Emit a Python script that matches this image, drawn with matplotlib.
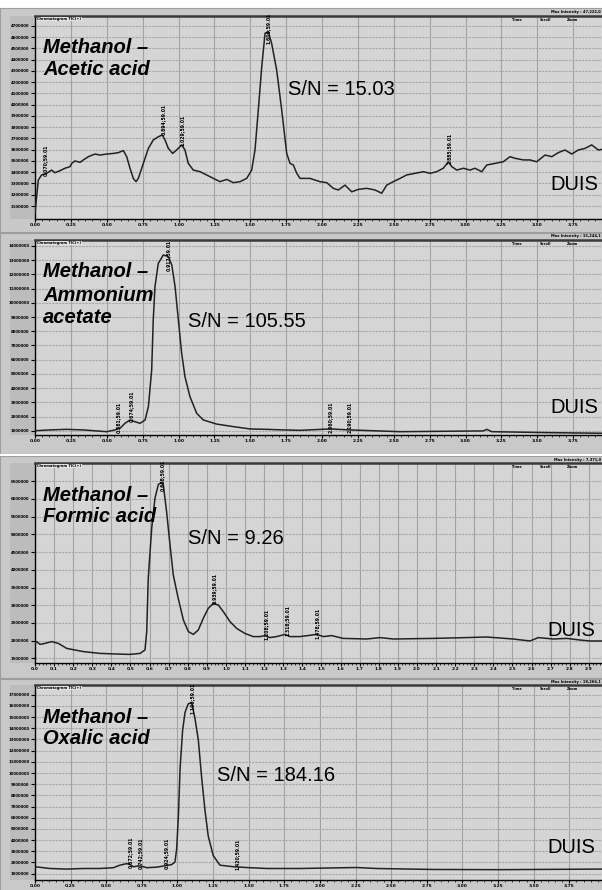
import numpy as np
import matplotlib.pyplot as plt
from matplotlib.patches import Rectangle
from matplotlib.ticker import MultipleLocator, FixedLocator

plt.rcParams['font.family'] = ['Liberation Sans', 'DejaVu Sans']

W, H = 602, 890

# ---------------- data (retention time, relative intensity %) ----------------
# Panel 1: Methanol - Acetic acid
t1 = [0.000, 0.023, 0.046, 0.081, 0.116, 0.139, 0.174, 0.209, 0.244, 0.256,
      0.279, 0.314, 0.337, 0.372, 0.418, 0.453, 0.500, 0.546, 0.581, 0.616,
      0.639, 0.662, 0.685, 0.704, 0.720, 0.755, 0.790, 0.824, 0.859, 0.887,
      0.906, 0.929, 0.959, 0.987, 1.022, 1.045, 1.068, 1.103, 1.150, 1.196,
      1.243, 1.289, 1.336, 1.382, 1.429, 1.475, 1.510, 1.533, 1.556, 1.580,
      1.603, 1.626, 1.649, 1.684, 1.719, 1.754, 1.777, 1.800, 1.824, 1.847,
      1.916, 1.986, 2.033, 2.079, 2.114, 2.160, 2.207, 2.253, 2.311, 2.369,
      2.416, 2.451, 2.497, 2.544, 2.590, 2.648, 2.706, 2.753, 2.799, 2.845,
      2.880, 2.904, 2.939, 2.985, 3.031, 3.066, 3.113, 3.148, 3.206, 3.263,
      3.310, 3.345, 3.403, 3.449, 3.496, 3.554, 3.601, 3.647, 3.693, 3.740,
      3.786, 3.833, 3.879, 3.926, 3.951]
i1 = [2.8, 19.2, 21.7, 22.5, 24.1, 22.8, 23.8, 25.0, 25.8, 27.4,
      28.6, 27.9, 29.1, 30.7, 32.0, 31.5, 32.0, 32.3, 32.7, 33.7,
      30.7, 25.0, 20.0, 18.4, 20.0, 27.4, 34.8, 38.9, 40.5, 41.4,
      38.9, 34.8, 32.3, 34.0, 36.5, 34.0, 27.4, 24.1, 23.3, 21.7,
      20.0, 18.4, 19.5, 17.9, 18.4, 20.0, 24.1, 34.0, 53.7, 75.0,
      91.5, 92.3, 86.5, 73.4, 53.7, 32.3, 27.4, 26.6, 22.5, 20.0,
      20.0, 18.4, 17.9, 15.1, 14.3, 16.7, 13.4, 14.6, 15.1, 14.3,
      12.7, 16.7, 18.4, 20.0, 21.7, 22.5, 23.3, 22.5, 23.3, 25.0,
      28.2, 25.8, 24.1, 25.0, 24.1, 25.0, 23.3, 26.6, 27.4, 28.2,
      30.7, 29.9, 29.1, 29.1, 28.2, 31.5, 30.7, 32.7, 34.0, 32.0,
      34.0, 34.8, 36.5, 34.0, 34.3]
m1_t = [0.070, 0.894, 1.029, 1.626, 2.885]
m1_i = [29.1, 48.8, 43.8, 94.0, 35.0]
m1_s = ["0.070;59.01", "0.894;59.01", "1.029;59.01", "1.606;59.01", "2.885;59.01"]

# Panel 2: Methanol - Ammonium acetate
t2 = [0.000, 0.105, 0.221, 0.337, 0.500, 0.557, 0.592, 0.627, 0.662, 0.697,
      0.732, 0.767, 0.790, 0.813, 0.824, 0.836, 0.859, 0.894, 0.929, 0.953,
      0.976, 0.999, 1.022, 1.045, 1.080, 1.127, 1.173, 1.266, 1.382, 1.498,
      1.615, 1.730, 1.847, 2.056, 2.195, 2.544, 3.124, 3.148, 3.183, 3.589,
      3.951]
i2 = [2.2, 2.6, 2.9, 2.6, 1.7, 2.6, 3.4, 6.0, 7.7, 6.8,
      6.0, 7.7, 14.5, 33.3, 59.0, 76.1, 88.0, 92.3, 91.5, 87.2,
      76.1, 59.0, 41.9, 29.9, 19.6, 11.1, 7.7, 5.6, 4.3, 3.1,
      2.9, 2.6, 2.4, 3.1, 2.6, 1.7, 2.1, 2.9, 1.7, 1.2,
      0.9]
m2_t = [0.581, 0.674, 0.929, 2.060, 2.190]
m2_i = [9.2, 14.9, 92.3, 9.2, 9.2]
m2_s = ["0.581;59.01", "0.674;59.01", "0.912;59.01", "2.060;59.01", "2.190;59.01"]

# Panel 3: Methanol - Formic acid
t3 = [0.000, 0.009, 0.026, 0.052, 0.087, 0.122, 0.166, 0.253, 0.340, 0.428,
      0.497, 0.550, 0.576, 0.585, 0.593, 0.611, 0.628, 0.646, 0.663, 0.672,
      0.689, 0.707, 0.724, 0.750, 0.777, 0.803, 0.829, 0.855, 0.881, 0.907,
      0.934, 0.960, 0.986, 1.021, 1.056, 1.099, 1.143, 1.178, 1.204, 1.230,
      1.265, 1.309, 1.335, 1.387, 1.475, 1.510, 1.553, 1.614, 1.737, 1.806,
      1.876, 2.085, 2.260, 2.365, 2.504, 2.592, 2.635, 2.714, 2.784, 2.853,
      2.906, 2.969]
i3 = [9.8, 10.7, 9.3, 9.8, 10.7, 9.8, 7.3, 5.7, 4.8, 4.5,
      4.3, 4.8, 6.5, 15.7, 42.3, 67.3, 82.3, 89.3, 90.3, 89.0,
      75.7, 59.0, 44.0, 32.3, 21.5, 15.7, 14.3, 16.5, 22.3, 27.3,
      29.8, 29.0, 25.7, 20.7, 17.3, 14.8, 13.2, 13.2, 13.7, 12.7,
      13.2, 14.3, 13.2, 13.2, 14.3, 13.2, 13.7, 12.3, 12.0, 12.7,
      12.0, 12.3, 12.7, 13.0, 12.0, 11.0, 12.7, 12.0, 12.3, 11.5,
      11.0, 11.0]
m3_t = [0.668, 0.939, 1.208, 1.318, 1.478]
m3_i = [94.0, 37.5, 19.5, 21.0, 20.0]
m3_s = ["0.668;59.01", "0.939;59.01", "1.208;59.01", "1.318;59.01", "1.478;59.01"]

# Panel 4: Methanol - Oxalic acid
t4 = [0.000, 0.105, 0.222, 0.339, 0.456, 0.550, 0.596, 0.643, 0.667, 0.690,
      0.737, 0.784, 0.854, 0.912, 0.959, 0.982, 0.994, 1.006, 1.018, 1.036,
      1.053, 1.076, 1.100, 1.123, 1.146, 1.170, 1.193, 1.216, 1.251, 1.298,
      1.392, 1.509, 1.626, 1.743, 1.860, 2.257, 2.398, 2.795, 3.263, 3.979]
i4 = [6.8, 5.9, 5.6, 5.9, 5.9, 6.3, 7.6, 8.4, 7.9, 6.8,
      7.3, 6.3, 6.6, 7.3, 7.9, 9.2, 15.8, 32.3, 57.1, 76.9,
      86.0, 90.4, 90.9, 82.7, 71.9, 52.1, 35.6, 22.4, 12.5, 7.6,
      6.8, 6.3, 5.9, 5.9, 5.9, 6.4, 5.9, 5.4, 5.3, 5.6]
m4_t = [0.672, 0.742, 0.924, 1.100, 1.420]
m4_i = [14.4, 13.9, 13.4, 93.0, 12.9]
m4_s = ["0.672;59.01", "0.742;59.01", "0.924;59.01", "1.100;59.01", "1.420;59.01"]

titles = [["Methanol \u2013", "Acetic acid"],
          ["Methanol \u2013", "Ammonium", "acetate"],
          ["Methanol \u2013", "Formic acid"],
          ["Methanol \u2013", "Oxalic acid"]]
sn_labels = ["S/N = 15.03", "S/N = 105.55", "S/N = 9.26", "S/N = 184.16"]
mode_label = "DUIS"
max_int = ["Max Intensity : 47,222,0", "Max Intensity : 15,244,1",
           "Max Intensity : 7,371,0", "Max Intensity : 18,266,1"]

# ---------------- layout (pixels) ----------------
layout = [
    dict(top=16, bottom=219, xmax=3.951, major=0.25, minor=0.05, fmt='{:.2f}',
         y0=6.4, ystep=5.55, title_y=[53.3, 75.0], sn=(288, 95), duis=(550, 190),
         frame=(8, 232)),
    dict(top=240, bottom=435, xmax=3.951, major=0.25, minor=0.05, fmt='{:.2f}',
         y0=2.1, ystep=7.3, title_y=[277.3, 300.7, 322.7], sn=(188, 327.3), duis=(550, 413.3),
         frame=(233, 454)),
    dict(top=463, bottom=663, xmax=2.969, major=0.1, minor=0.02, fmt='{:.1f}',
         y0=2.35, ystep=8.85, title_y=[500.7, 522.3], sn=(188, 544.3), duis=(547, 635.7),
         frame=(456, 678)),
    dict(top=685, bottom=880, xmax=3.979, major=0.25, minor=0.05, fmt='{:.2f}',
         y0=3.3, ystep=5.73, title_y=[722.7, 744.3], sn=(217, 781), duis=(547, 853),
         frame=(679, 900)),
]
series = [(t1, i1, m1_t, m1_i, m1_s), (t2, i2, m2_t, m2_i, m2_s),
          (t3, i3, m3_t, m3_i, m3_s), (t4, i4, m4_t, m4_i, m4_s)]
ytick_base = [3100000, 1000000, 1500000, 1000000]
ytick_inc = [100000, 1000000, 500000, 1000000]


def fx(x):
    return x / W


def fy(y):
    return 1 - y / H


fig = plt.figure(figsize=(6.02, 8.90), dpi=100, facecolor='#c4c4c4')

# white strip at top
fig.add_artist(Rectangle((0, fy(8)), 1, 8 / H, transform=fig.transFigure,
                         facecolor='white', edgecolor='none', zorder=0))

left_px, right_px = 35, 602
for k, (L, S) in enumerate(zip(layout, series)):
    t, inten, mt, mi, ms = S
    f0, f1 = L['frame']
    # panel frame
    fig.add_artist(Rectangle((fx(0), fy(f1)), 1, (f1 - f0) / H, transform=fig.transFigure,
                             facecolor='#c9c9c9', edgecolor='#9e9e9e', lw=0.8, zorder=0))
    # darker tick-label strip on the left
    fig.add_artist(Rectangle((fx(10), fy(L['bottom'])), fx(25), (L['bottom'] - L['top']) / H,
                             transform=fig.transFigure, facecolor='#bcbcbc',
                             edgecolor='none', zorder=0))
    ax = fig.add_axes([fx(left_px), fy(L['bottom']), (right_px - left_px) / W,
                       (L['bottom'] - L['top']) / H])
    ax.set_facecolor('#d5d5d5')
    ax.set_xlim(0, L['xmax'])
    ax.set_ylim(0, 100)

    # grid
    ax.xaxis.set_major_locator(MultipleLocator(L['major']))
    ax.xaxis.set_minor_locator(MultipleLocator(L['minor']))
    yt = np.arange(L['y0'], 99.5, L['ystep'])
    ax.yaxis.set_major_locator(FixedLocator(yt))
    ax.grid(axis='x', which='major', color='#a2a2a2', lw=0.8, ls='-')
    ax.grid(axis='y', which='major', color='#a6a6a6', lw=0.8, ls=(0, (2.0, 1.0)))
    ax.set_axisbelow(True)

    ax.plot(t, inten, color='#222222', lw=1.1, zorder=3)

    # peak annotation labels
    for tt, ii, ss in zip(mt, mi, ms):
        ax.text(tt, ii, ss, rotation=90, fontsize=3.3, fontweight='bold',
                ha='center', va='center', color='black', zorder=4,
                family='DejaVu Sans')

    # ticks
    xt = np.arange(0, L['xmax'] + 1e-6, L['major'])
    ax.set_xticks(xt)
    ax.set_xticklabels([L['fmt'].format(v) for v in xt])
    ax.set_yticklabels([str(ytick_base[k] + j * ytick_inc[k]) for j in range(len(yt))])
    ax.tick_params(axis='x', which='major', length=2.0, width=0.8, labelsize=3.2, pad=0.6,
                   colors='black')
    ax.tick_params(axis='x', which='minor', length=1.2, width=0.5)
    ax.tick_params(axis='y', length=3, width=0.8, labelsize=2.8, pad=1, colors='black')
    for lab in ax.get_xticklabels() + ax.get_yticklabels():
        lab.set_fontweight('bold')
        lab.set_family('DejaVu Sans')
    ax.spines['right'].set_visible(False)
    ax.spines['top'].set_color('#3a3a3a')
    ax.spines['top'].set_linewidth(1.8)
    ax.spines['left'].set_color('black')
    ax.spines['left'].set_linewidth(1.0)
    ax.spines['bottom'].set_color('black')
    ax.spines['bottom'].set_linewidth(1.0)

    # titles
    for line, yb in zip(titles[k], L['title_y']):
        fig.text(fx(43), fy(yb), line, fontsize=14.5, fontweight='bold', style='italic',
                 ha='left', va='baseline', color='black')
    fig.text(fx(L['sn'][0]), fy(L['sn'][1]), sn_labels[k], fontsize=14.5,
             ha='left', va='baseline', color='black')
    fig.text(fx(L['duis'][0]), fy(L['duis'][1]), mode_label, fontsize=14.5,
             ha='left', va='baseline', color='black')

    # tiny header texts
    ax.text(0.004, 0.995, "Chromatogram TIC(+)", transform=ax.transAxes, fontsize=2.6,
            fontweight='bold', ha='left', va='top', color='black', family='DejaVu Sans',
            bbox=dict(facecolor='#e4e4e4', edgecolor='none', pad=0.3))
    fig.text(fx(601), fy(L['top'] - 2.5), max_int[k], fontsize=2.6, fontweight='bold',
             ha='right', va='baseline', color='black', family='DejaVu Sans')
    for lbl, xp in zip(["Time", "Scroll", "Zoom"], [517, 546, 573]):
        fig.text(fx(xp), fy(L['top'] + 5), lbl, fontsize=2.6, fontweight='bold',
                 ha='center', va='baseline', color='black', family='DejaVu Sans')

# white separator between panel 2 and panel 3
fig.add_artist(Rectangle((0, fy(456)), 1, 2 / H, transform=fig.transFigure,
                         facecolor='white', edgecolor='none', zorder=1))

fig.savefig('out.png', dpi=100, facecolor=fig.get_facecolor())
